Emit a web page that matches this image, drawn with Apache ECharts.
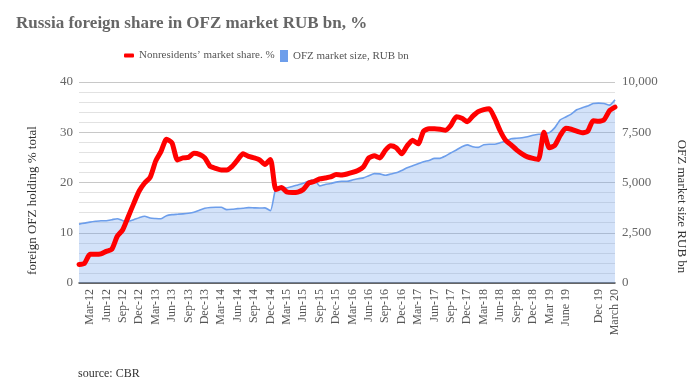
<!DOCTYPE html>
<html>
<head>
<meta charset="utf-8">
<script src="https://cdn.jsdelivr.net/npm/echarts@6/dist/echarts.min.js"></script>
<style>
html,body{margin:0;padding:0;background:#fff;}
#chart{width:699px;height:392px;}
</style>
</head>
<body>
<div id="chart"></div>
<script>
// Monthly categories Jan-2012 .. Mar-2020
const months = [];
for (let y = 2012; y <= 2020; y++) {
  for (let m = 1; m <= 12; m++) {
    if (y === 2020 && m > 3) break;
    months.push(y + '-' + (m < 10 ? '0' + m : m));
  }
}

// Tick labels shown on the x axis
const tickMonths = ['2012-03','2012-06','2012-09','2012-12','2013-03','2013-06','2013-09','2013-12',
  '2014-03','2014-06','2014-09','2014-12','2015-03','2015-06','2015-09','2015-12',
  '2016-03','2016-06','2016-09','2016-12','2017-03','2017-06','2017-09','2017-12',
  '2018-03','2018-06','2018-09','2018-12','2019-03','2019-06','2019-12','2020-03'];
const tickTexts = ['Mar-12','Jun-12','Sep-12','Dec-12','Mar-13','Jun-13','Sep-13','Dec-13',
  'Mar-14','Jun-14','Sep-14','Dec-14','Mar-15','Jun-15','Sep-15','Dec-15',
  'Mar-16','Jun-16','Sep-16','Dec-16','Mar-17','Jun-17','Sep-17','Dec-17',
  'Mar-18','Jun-18','Sep-18','Dec-18','Mar 19','June 19','Dec 19','March 20'];

// Nonresidents' market share, %
const shareValues = [
  3.7, 3.9, 5.7, 5.7, 5.8, 6.3, 6.7, 9.3, 10.6, 13.2, 15.8, 18.3,
  19.9, 21.0, 24.2, 26.2, 28.6, 27.9, 24.5, 24.9, 25.0, 25.8, 25.6, 24.9,
  23.2, 22.8, 22.5, 22.5, 23.2, 24.5, 25.7, 25.2, 24.9, 24.5, 23.6, 24.6,
  18.6, 19.0, 18.1, 18.0, 18.1, 18.6, 19.9, 20.2, 20.7, 20.9, 21.1, 21.6,
  21.5, 21.7, 22.0, 22.4, 23.1, 24.9, 25.3, 24.9, 26.4, 27.3, 26.9, 25.7,
  27.3, 28.4, 27.7, 30.2, 30.7, 30.7, 30.6, 30.4, 31.4, 33.1, 32.8, 32.1,
  33.2, 34.1, 34.5, 34.7, 32.8, 30.3, 28.4, 27.5, 26.5, 25.7, 25.1, 24.8,
  24.6, 30.0, 26.9, 27.4, 29.4, 30.8, 30.6, 30.2, 29.9, 30.2, 32.3, 32.2,
  32.5, 34.3, 35.0
];

// OFZ market size, RUB bn
const sizeValues = [
  2930, 2980, 3030, 3070, 3100, 3100, 3150, 3200, 3100, 3070, 3150, 3250,
  3320, 3230, 3210, 3200, 3350, 3400, 3420, 3440, 3470, 3520, 3620, 3720,
  3760, 3770, 3770, 3650, 3670, 3700, 3720, 3750, 3740, 3730, 3740, 3600,
  4720, 4760, 4730, 4800, 4880, 4960, 5070, 5140, 4830, 4900, 4950, 5020,
  5060, 5060, 5120, 5190, 5230, 5340, 5440, 5430, 5360, 5420, 5480, 5600,
  5730, 5830, 5930, 6030, 6100, 6200, 6200, 6320, 6480, 6620, 6780, 6870,
  6780, 6750, 6880, 6900, 6900, 6980, 7050, 7180, 7200, 7230, 7280, 7350,
  7400, 7430, 7480, 7730, 8120, 8260, 8400, 8620, 8720, 8800, 8930, 8950,
  8930, 8850, 9120
];

const tickMap = {};
tickMonths.forEach((m, i) => { tickMap[m] = tickTexts[i]; });

const serif = 'Liberation Serif';
const chart = echarts.init(document.getElementById('chart'), null, {renderer: 'canvas'});
chart.setOption({
  animation: false,
  backgroundColor: '#ffffff',
  title: [
    {
      text: 'Russia foreign share in OFZ market RUB bn, %',
      left: 16, top: 15, padding: 0,
      textStyle: {fontFamily: serif, fontWeight: 'bold', fontSize: 17, color: '#666666'}
    },
    {
      text: 'source: CBR',
      left: 78, top: 368, padding: 0,
      textStyle: {fontFamily: serif, fontWeight: 'normal', fontSize: 12, color: '#333333'}
    }
  ],
  legend: [
    {
      data: ['Nonresidents\u2019 market share. %'],
      left: 124, top: 50, padding: 0,
      icon: 'roundRect', itemWidth: 10, itemHeight: 4,
      textStyle: {fontFamily: serif, fontSize: 11, color: '#555555'}
    },
    {
      data: ['OFZ market size, RUB bn'],
      left: 280, top: 50, padding: 0,
      icon: 'rect', itemWidth: 8, itemHeight: 12,
      textStyle: {fontFamily: serif, fontSize: 11, color: '#555555'}
    }
  ],
  grid: {left: 79, right: 84, top: 82, bottom: 109, containLabel: false},
  xAxis: {
    type: 'category',
    data: months,
    boundaryGap: false,
    axisLine: {show: true, lineStyle: {color: '#444444', width: 1.5}},
    axisTick: {show: false},
    splitLine: {show: false},
    axisLabel: {
      interval: 0,
      rotate: 90,
      margin: 6,
      fontFamily: serif,
      fontSize: 12,
      color: '#555555',
      formatter: function (v) { return tickMap[v] || ''; }
    }
  },
  yAxis: [
    {
      type: 'value',
      min: 0, max: 40, interval: 10,
      name: 'foreign OFZ holding % total',
      nameLocation: 'middle',
      nameGap: 40,
      nameRotate: 90,
      nameTextStyle: {fontFamily: serif, fontSize: 13, color: '#333333', padding: [0, 36, 0, 0]},
      axisLine: {show: false},
      axisTick: {show: false},
      axisLabel: {fontFamily: serif, fontSize: 13, color: '#666666', margin: 6},
      splitLine: {show: true, lineStyle: {color: '#c8c8c8', width: 1}},
      minorTick: {show: false, splitNumber: 5},
      minorSplitLine: {show: true, lineStyle: {color: '#e2e2e2', width: 1}}
    },
    {
      type: 'value',
      min: 0, max: 10000, interval: 2500,
      name: 'OFZ market size RUB bn',
      nameLocation: 'middle',
      nameGap: 60,
      nameRotate: -90,
      nameTextStyle: {fontFamily: serif, fontSize: 13, color: '#333333', padding: [0, 0, 0, 48]},
      axisLine: {show: false},
      axisTick: {show: false},
      axisLabel: {fontFamily: serif, fontSize: 13, color: '#666666', margin: 7},
      splitLine: {show: false}
    }
  ],
  series: [
    {
      name: 'OFZ market size, RUB bn',
      type: 'line',
      yAxisIndex: 1,
      data: sizeValues,
      symbol: 'none',
      smooth: 0.2,
      color: '#6d9eeb',
      lineStyle: {color: '#6d9eeb', width: 1.6},
      areaStyle: {color: '#6d9eeb', opacity: 0.3},
      z: 2
    },
    {
      name: 'Nonresidents\u2019 market share. %',
      type: 'line',
      yAxisIndex: 0,
      data: shareValues,
      symbol: 'none',
      smooth: 0.2,
      color: '#ff0000',
      lineStyle: {color: '#ff0000', width: 5, cap: 'round', join: 'round'},
      z: 3
    }
  ]
});
</script>
</body>
</html>
